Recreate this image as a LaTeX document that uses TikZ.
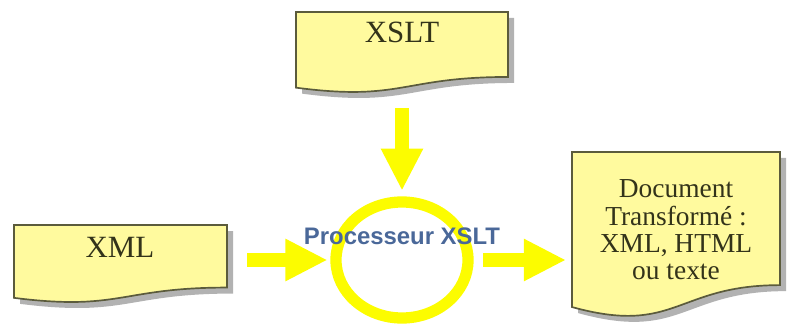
\documentclass[tikz,border=0pt]{standalone}
\usepackage{fontspec}
\setmainfont{Liberation Serif}
\newfontfamily\procfont{Liberation Sans}
\usetikzlibrary{shapes.geometric, arrows.meta, positioning}

\definecolor{docfill}{HTML}{FFFA9E}
\definecolor{docline}{HTML}{5B5B3C}
\definecolor{doctext}{HTML}{33331A}
\definecolor{flowyellow}{HTML}{FCFC00}
\definecolor{procblue}{HTML}{4A6899}

% document shape: left, top, width, height
\newcommand{\docshape}[4]{%
  \begin{scope}[shift={(#1+6,#2-6)}, xscale=#3, yscale=#4]
    \fill[docshadow] (0,0) -- (1,0) -- (1,-0.802) .. controls (0.5,-0.802) and (0.5,-1.107) .. (0,-0.934) -- cycle;
  \end{scope}
  \begin{scope}[shift={(#1,#2)}, xscale=#3, yscale=#4]
    \filldraw[docbox] (0,0) -- (1,0) -- (1,-0.802) .. controls (0.5,-0.802) and (0.5,-1.107) .. (0,-0.934) -- cycle;
  \end{scope}}

\begin{document}
\begin{tikzpicture}[x=0.025cm, y=0.025cm,
    docbox/.style={fill=docfill, draw=docline, line width=1.2pt},
    docshadow/.style={fill=black!60, opacity=0.5},
    doclabel/.style={text=doctext, font=\fontsize{22}{22}\selectfont, inner sep=0pt},
    proc/.style={ellipse, draw=flowyellow, line width=8pt, minimum width=3.3cm, minimum height=2.9cm},
    proclabel/.style={text=procblue, font=\procfont\bfseries\fontsize{17}{17}\selectfont, inner sep=0pt},
    flow/.style={draw=flowyellow, line width=9.5pt, -{Triangle[width=28pt, length=30pt]}}]
  \useasboundingbox (0,0) rectangle (793,329);

  \docshape{296}{317}{212}{81}
  \docshape{14}{104}{213}{78}
  \docshape{572}{177}{208}{166}

  \node[doclabel] (xslt) at (402,297) {XSLT};
  \node[doclabel] (xml)  at (120,82)  {XML};
  \node[doclabel, align=center, font=\fontsize{19.5}{19.5}\selectfont] (doc) at (676,99)
    {Document\\Transformé :\\XML, HTML\\ou texte};

  \node[proc] (proc) at (402,69) {};
  \node[proclabel] (proclabel) at (402,93) {Processeur XSLT};

  \coordinate (xslt-out) at (402,221);
  \coordinate (xml-out)  at (247,69);
  \coordinate (doc-in)   at (566,69);

  \draw[flow, shorten >=4pt] (xslt-out) -- (proc.north);
  \draw[flow, shorten >=2pt] (xml-out) -- (proc.west);
  \draw[flow, shorten <=7pt] (proc.east) -- (doc-in);
\end{tikzpicture}
\end{document}
